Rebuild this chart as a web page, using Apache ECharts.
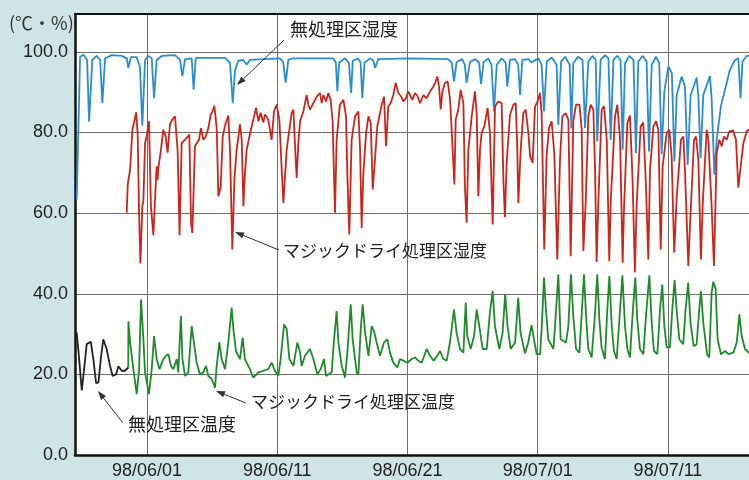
<!DOCTYPE html>
<html><head><meta charset="utf-8">
<script src="https://cdn.jsdelivr.net/npm/echarts@6/dist/echarts.min.js"></script>
<style>html,body{margin:0;padding:0;background:#cfe4e7;}#c{width:749px;height:480px;}</style>
</head><body><div id="c"></div>
<script>
// x = days since 98/06/01, y = value (℃ or %)
const xTickLabels = ['98/06/01','98/06/11','98/06/21','98/07/01','98/07/11'];
const yUnitLabel = '(℃・%)';
const seriesNames = ['無処理区湿度','マジックドライ処理区湿度','マジックドライ処理区温度','無処理区温度'];

const untreatedHumidity = [[-5.40,63.4],[-5.14,98.8],[-4.88,99.3],[-4.60,98.0],[-4.45,82.7],[-4.20,98.0],[-3.87,99.0],[-3.60,98.0],[-3.43,87.3],[-3.22,98.4],[-2.71,99.2],[-1.94,99.0],[-1.55,98.4],[-1.44,96.0],[-1.23,98.7],[-0.79,98.7],[-0.54,96.2],[-0.36,81.7],[-0.15,98.0],[0.10,99.0],[0.36,98.4],[0.54,88.5],[0.74,98.0],[1.13,99.0],[2.15,99.2],[2.54,98.0],[2.71,94.0],[2.92,98.2],[3.43,98.4],[3.58,90.6],[3.74,98.5],[6.00,98.5],[6.37,97.3],[6.58,87.3],[6.75,95.3],[7.00,97.8],[7.40,98.0],[7.65,96.8],[7.90,98.0],[10.20,98.4],[10.45,97.5],[10.65,92.4],[10.85,98.0],[11.20,98.4],[14.30,98.4],[14.50,97.3],[14.61,90.2],[14.75,97.3],[15.20,98.4],[15.50,97.3],[15.67,89.8],[15.80,97.8],[16.20,98.4],[16.40,97.3],[16.53,88.5],[16.70,97.3],[17.12,98.4],[17.38,97.8],[17.51,96.0],[17.76,98.2],[20.19,98.4],[23.13,98.2],[23.40,97.3],[23.57,92.7],[23.77,97.5],[24.20,98.2],[24.40,96.8],[24.54,92.3],[24.80,97.5],[25.20,98.2],[25.50,97.3],[25.64,92.0],[25.85,97.5],[26.20,98.4],[26.45,96.8],[26.64,85.2],[26.85,96.8],[27.23,98.4],[27.54,97.3],[27.66,91.4],[27.87,98.0],[28.25,98.2],[28.50,96.8],[28.64,89.3],[28.82,98.0],[29.28,98.2],[29.50,97.4],[29.65,97.0],[30.05,98.4],[30.30,96.8],[30.48,85.2],[30.69,97.6],[31.07,98.6],[31.45,96.8],[31.58,81.9],[31.79,97.6],[32.10,98.8],[32.45,96.8],[32.58,81.0],[32.73,97.2],[33.10,98.8],[33.44,98.0],[33.63,81.1],[33.88,97.6],[34.20,99.0],[34.45,98.0],[34.57,77.8],[34.83,98.0],[35.17,99.2],[35.43,98.4],[35.60,78.2],[35.81,98.0],[36.10,99.0],[36.36,98.0],[36.52,75.7],[36.70,97.2],[37.03,99.0],[37.35,98.0],[37.54,74.9],[37.72,97.6],[38.05,99.0],[38.36,97.6],[38.54,75.3],[38.75,96.8],[39.08,98.8],[39.33,97.2],[39.51,74.5],[39.72,90.2],[40.03,96.4],[40.30,94.7],[40.49,72.8],[40.67,89.3],[41.05,93.9],[41.30,91.4],[41.51,72.0],[41.74,89.3],[42.20,93.6],[42.33,89.3],[42.50,73.7],[42.71,89.3],[43.22,94.0],[43.35,88.5],[43.56,69.6],[43.74,78.2],[44.06,86.5],[44.50,92.2],[44.75,95.5],[45.14,98.0],[45.40,98.4],[45.57,88.5],[45.72,97.6],[46.04,99.0],[47.40,99.0]];

const magicHumidity = [[-1.56,60.1],[-1.48,67.1],[-1.30,70.8],[-1.12,80.8],[-0.97,82.8],[-0.84,85.0],[-0.72,79.9],[-0.61,60.0],[-0.51,47.5],[-0.36,61.7],[-0.28,63.0],[-0.15,77.4],[-0.03,79.0],[0.15,82.8],[0.30,61.7],[0.49,54.5],[0.61,63.0],[0.74,71.6],[0.82,68.3],[0.87,71.2],[0.99,71.6],[1.07,75.7],[1.25,80.7],[1.43,79.0],[1.58,75.0],[1.76,82.0],[1.94,83.2],[2.15,84.0],[2.35,75.6],[2.50,54.5],[2.66,77.4],[3.04,78.6],[3.25,79.5],[3.38,57.6],[3.48,55.1],[3.68,76.6],[3.99,78.2],[4.14,81.1],[4.33,78.2],[4.51,79.0],[4.71,81.1],[4.89,84.4],[5.02,85.2],[5.17,86.6],[5.35,81.1],[5.48,64.2],[5.66,66.6],[5.81,79.0],[6.04,82.3],[6.24,84.2],[6.37,75.7],[6.55,51.0],[6.71,68.3],[6.88,75.7],[7.14,82.0],[7.27,78.2],[7.40,61.7],[7.52,70.0],[7.65,75.7],[7.91,79.8],[8.16,83.2],[8.37,86.1],[8.55,82.8],[8.72,84.9],[8.93,82.5],[9.06,84.5],[9.31,83.2],[9.44,80.7],[9.57,78.2],[9.75,85.2],[9.95,86.9],[10.16,83.2],[10.34,70.8],[10.47,62.5],[10.72,75.7],[10.93,80.7],[11.10,84.8],[11.24,85.7],[11.36,77.0],[11.49,68.7],[11.62,77.4],[11.75,82.8],[12.00,85.2],[12.26,89.3],[12.39,86.9],[12.52,85.7],[12.77,87.3],[13.03,88.9],[13.28,89.8],[13.41,87.3],[13.54,89.3],[13.74,87.7],[13.92,89.8],[14.10,88.1],[14.25,82.8],[14.43,60.1],[14.56,78.2],[14.81,86.9],[15.08,88.1],[15.28,84.0],[15.38,69.9],[15.53,54.7],[15.71,78.2],[15.97,84.0],[16.23,85.2],[16.36,75.7],[16.48,56.3],[16.61,69.9],[16.82,79.9],[17.00,84.0],[17.18,82.3],[17.33,65.9],[17.50,73.3],[17.68,81.5],[17.89,84.8],[18.02,86.9],[18.20,88.9],[18.35,76.6],[18.53,86.5],[18.71,87.3],[18.91,89.3],[19.09,92.3],[19.30,89.8],[19.50,89.0],[19.68,87.7],[19.88,88.5],[20.06,90.2],[20.19,90.6],[20.37,88.1],[20.58,89.8],[20.78,89.0],[20.96,87.3],[21.22,89.3],[21.47,88.5],[21.73,90.2],[21.99,91.4],[22.16,92.7],[22.29,93.9],[22.42,91.4],[22.55,85.7],[22.68,90.2],[22.88,92.3],[23.08,92.7],[23.26,88.5],[23.39,80.7],[23.60,67.1],[23.70,83.2],[23.90,85.7],[24.08,90.6],[24.29,87.3],[24.41,66.3],[24.54,57.6],[24.67,75.7],[24.93,84.0],[25.18,90.2],[25.31,84.8],[25.44,64.2],[25.57,75.7],[25.69,79.9],[25.90,81.5],[26.15,86.1],[26.33,79.9],[26.54,57.2],[26.72,86.5],[26.97,87.7],[27.23,87.3],[27.36,68.3],[27.48,59.0],[27.61,72.5],[27.87,84.4],[28.13,86.9],[28.31,87.3],[28.43,75.7],[28.51,62.5],[28.69,75.7],[28.89,84.8],[29.07,85.7],[29.28,79.9],[29.41,74.1],[29.61,72.5],[29.79,86.5],[29.99,87.7],[30.17,89.8],[30.30,84.8],[30.50,51.0],[30.68,74.1],[30.86,81.1],[31.07,82.8],[31.27,74.9],[31.50,48.5],[31.71,73.3],[31.89,84.0],[32.14,84.8],[32.35,83.2],[32.53,49.3],[32.73,82.8],[32.94,86.9],[33.20,86.9],[33.37,81.1],[33.50,50.6],[33.68,62.5],[33.88,83.9],[34.06,86.9],[34.27,85.7],[34.40,70.8],[34.52,47.9],[34.65,62.5],[34.91,85.7],[35.09,86.5],[35.30,78.2],[35.49,48.1],[35.60,62.5],[35.93,84.0],[36.11,86.9],[36.32,78.2],[36.52,47.7],[36.62,60.9],[36.88,82.3],[37.08,84.2],[37.28,68.3],[37.46,45.3],[37.59,61.7],[37.90,81.5],[38.10,82.5],[38.31,66.6],[38.49,48.5],[38.62,70.8],[38.88,81.5],[39.08,82.8],[39.26,80.7],[39.44,51.0],[39.59,71.6],[39.90,79.9],[40.10,80.7],[40.28,74.1],[40.48,50.2],[40.66,63.4],[41.00,78.2],[41.18,79.0],[41.31,70.0],[41.56,46.9],[41.69,56.8],[42.00,78.2],[42.15,79.0],[42.33,73.3],[42.53,48.5],[42.66,61.7],[42.97,80.7],[43.10,78.2],[43.35,61.7],[43.53,46.9],[43.74,74.9],[43.94,78.2],[44.12,76.6],[44.29,79.0],[44.50,78.2],[44.71,80.3],[45.01,80.5],[45.22,78.2],[45.40,66.3],[45.58,71.6],[45.79,77.4],[46.04,80.3],[46.20,80.7],[47.40,81.0]];

const magicTemp = [[-1.44,21.7],[-1.43,33.2],[-1.30,28.0],[-1.05,21.3],[-0.79,15.1],[-0.61,21.3],[-0.46,38.6],[-0.28,28.7],[-0.15,20.5],[0.15,15.1],[0.36,21.3],[0.54,29.5],[0.74,23.8],[0.95,21.3],[1.25,23.8],[1.46,24.6],[1.64,25.0],[1.84,22.1],[2.02,21.3],[2.28,23.8],[2.40,20.5],[2.60,34.5],[2.72,23.8],[2.92,19.6],[3.17,20.5],[3.43,32.0],[3.56,31.6],[3.81,22.9],[4.07,20.0],[4.32,20.5],[4.53,22.1],[4.71,19.6],[4.97,18.8],[5.22,16.7],[5.35,22.1],[5.55,28.0],[5.73,23.8],[5.99,21.3],[6.24,27.9],[6.50,36.6],[6.63,31.3],[6.83,25.8],[7.14,23.8],[7.34,29.1],[7.52,23.8],[7.90,21.3],[8.16,19.2],[8.55,20.5],[8.93,20.9],[9.31,21.3],[9.57,22.9],[9.82,20.9],[10.08,19.6],[10.26,23.8],[10.52,32.4],[10.72,31.3],[10.93,23.8],[11.24,22.1],[11.54,27.9],[11.75,25.4],[11.87,22.1],[12.13,24.6],[12.51,26.3],[12.77,23.8],[13.08,20.0],[13.33,21.3],[13.59,23.8],[13.74,19.6],[14.18,20.5],[14.36,28.7],[14.56,35.7],[14.69,28.0],[14.95,22.1],[15.20,19.2],[15.38,25.4],[15.64,37.4],[15.79,28.7],[16.10,20.5],[16.23,20.0],[16.41,31.3],[16.56,37.4],[16.74,30.5],[17.00,24.6],[17.25,32.0],[17.43,30.7],[17.63,27.9],[17.89,24.6],[18.19,27.9],[18.45,28.7],[18.66,25.4],[18.91,22.9],[19.22,21.7],[19.43,23.8],[19.68,23.4],[19.99,22.9],[20.32,23.8],[20.58,24.2],[20.83,23.4],[21.09,22.9],[21.47,26.3],[21.73,24.6],[22.00,23.4],[22.29,24.6],[22.50,25.8],[22.75,23.8],[23.01,23.4],[23.26,27.9],[23.57,36.1],[23.77,30.3],[24.03,26.3],[24.29,25.4],[24.47,37.8],[24.59,29.5],[24.85,26.3],[25.11,29.5],[25.31,36.1],[25.51,32.0],[25.77,26.3],[26.08,26.3],[26.33,35.3],[26.54,40.7],[26.71,32.0],[27.05,26.3],[27.30,30.3],[27.50,39.9],[27.68,32.0],[27.92,26.3],[28.26,27.9],[28.50,39.0],[28.68,30.3],[29.02,25.2],[29.27,27.9],[29.53,32.2],[29.71,28.7],[29.92,25.0],[30.18,25.0],[30.31,31.8],[30.48,44.0],[30.63,36.1],[30.81,28.7],[31.20,26.3],[31.33,32.0],[31.58,44.8],[31.76,28.7],[32.17,27.9],[32.35,32.0],[32.55,44.8],[32.73,34.5],[32.94,26.3],[33.20,25.4],[33.38,35.3],[33.55,44.8],[33.71,34.5],[33.88,26.3],[34.14,24.2],[34.40,35.3],[34.57,44.8],[34.73,33.7],[34.90,26.7],[35.16,23.8],[35.34,36.1],[35.50,44.4],[35.68,32.0],[35.85,25.8],[36.06,23.8],[36.32,36.1],[36.50,44.6],[36.70,32.0],[36.88,26.3],[37.08,24.2],[37.29,35.3],[37.49,44.0],[37.64,33.7],[37.85,26.3],[38.11,25.0],[38.31,34.5],[38.57,44.6],[38.75,32.8],[38.92,25.8],[39.18,25.0],[39.39,36.1],[39.56,42.3],[39.72,32.0],[39.90,26.7],[40.15,26.7],[40.33,36.1],[40.51,43.4],[40.66,36.1],[40.87,28.7],[41.17,27.5],[41.35,36.1],[41.55,42.8],[41.73,32.8],[41.97,27.0],[42.20,27.5],[42.40,36.1],[42.53,40.7],[42.71,32.8],[43.00,25.0],[43.17,24.2],[43.35,40.3],[43.48,43.0],[43.66,41.2],[43.81,28.7],[44.07,25.0],[44.38,25.8],[44.64,25.0],[45.02,25.4],[45.28,27.9],[45.48,34.9],[45.66,29.5],[45.91,26.3],[46.20,25.4],[47.40,25.4]];

const untreatedTemp = [[-5.40,30.4],[-5.26,25.6],[-5.01,16.0],[-4.83,21.3],[-4.63,27.5],[-4.32,28.1],[-4.12,23.8],[-3.91,17.8],[-3.73,18.0],[-3.55,23.8],[-3.36,28.7],[-3.10,26.3],[-2.84,22.1],[-2.64,19.6],[-2.38,20.0],[-2.20,22.0],[-1.94,20.9],[-1.69,20.9],[-1.43,21.7]];

const chart = echarts.init(document.getElementById('c'), null, {renderer: 'canvas'});
const numFont = 'Liberation Sans, Arial, sans-serif';
const jpFont = 'Noto Sans CJK JP, sans-serif';

function arrowGraphic(x1, y1, x2, y2) {
  const ang = Math.atan2(y2 - y1, x2 - x1);
  const L = 9, W = 3.2;
  const bx = x2 - L * Math.cos(ang), by = y2 - L * Math.sin(ang);
  const px = -Math.sin(ang) * W, py = Math.cos(ang) * W;
  return [
    {type: 'line', shape: {x1: x1, y1: y1, x2: bx, y2: by}, style: {stroke: '#333', lineWidth: 1}, z: 100},
    {type: 'polygon', shape: {points: [[x2, y2], [bx + px, by + py], [bx - px, by - py]]}, style: {fill: '#333'}, z: 100}
  ];
}
function label(text, x, y, size) {
  return {type: 'text', left: x, top: y, z: 100,
    style: {text: text, font: size + 'px ' + jpFont, fill: '#222'}};
}

const graphics = [].concat(
  [{type: 'text', left: 9, top: 14, z: 100, style: {text: yUnitLabel, font: '18px ' + jpFont, fill: '#333'}}],
  [label(seriesNames[0], 290, 20, 18)], arrowGraphic(284, 40, 237, 85),
  [label(seriesNames[1], 283, 242, 17)], arrowGraphic(279, 250, 235, 232),
  [label(seriesNames[2], 251, 393, 17)], arrowGraphic(246, 403, 216, 391),
  [label(seriesNames[3], 128, 415, 18)], arrowGraphic(123, 423, 98, 391)
);

function mk(name, data, color, z) {
  return {name: name, type: 'line', data: data, showSymbol: false, symbol: 'none', z: z,
    lineStyle: {color: color, width: 1.8}, itemStyle: {color: color}};
}

const X_MIN = -5.53, X_MAX = 46.22;

chart.setOption({
  animation: false,
  backgroundColor: '#cfe4e7',
  grid: {left: 75, top: 14, right: 0, bottom: 24, show: true, backgroundColor: '#fdfdfb', borderWidth: 0},
  xAxis: [{
    type: 'value', min: X_MIN, max: X_MAX, minInterval: 10, maxInterval: 10, splitNumber: 5,
    axisLine: {show: true, onZero: false, lineStyle: {color: '#111', width: 2.5}},
    axisTick: {show: false},
    axisLabel: {show: true, showMinLabel: false, showMaxLabel: false, margin: 7, fontSize: 18, fontFamily: numFont, color: '#222',
      formatter: function (v) { const i = Math.round(v / 10); return (Math.abs(v - i * 10) < 1e-6 && i >= 0 && i < xTickLabels.length) ? xTickLabels[i] : ''; }},
    splitLine: {show: true, lineStyle: {color: '#6e6e6e', width: 1}}
  }, {
    type: 'value', position: 'top', min: X_MIN, max: X_MAX,
    axisLine: {show: true, onZero: false, lineStyle: {color: '#111', width: 2}},
    axisTick: {show: false}, axisLabel: {show: false}, splitLine: {show: false}
  }],
  yAxis: {
    type: 'value', min: 0, max: 109.4, interval: 20,
    axisLine: {show: true, onZero: false, lineStyle: {color: '#111', width: 2.5}},
    axisTick: {show: false},
    axisLabel: {showMaxLabel: false, margin: 7, fontSize: 18, fontFamily: numFont, color: '#222',
      formatter: function (v) { return (v % 20 === 0) ? v.toFixed(1) : ''; }},
    splitLine: {show: true, lineStyle: {color: '#6e6e6e', width: 1}}
  },
  series: [
    mk(seriesNames[0], untreatedHumidity, '#2a8dd0', 3),
    mk(seriesNames[1], magicHumidity, '#c8261e', 4),
    mk(seriesNames[2], magicTemp, '#1f8a2e', 5),
    mk(seriesNames[3], untreatedTemp, '#222222', 6)
  ],
  graphic: graphics
});
</script></body></html>
